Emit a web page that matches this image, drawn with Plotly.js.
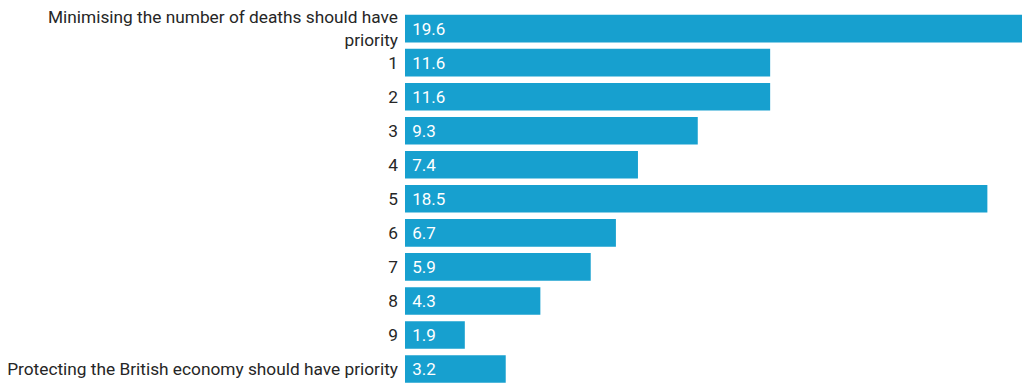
<!DOCTYPE html>
<html>
<head>
<meta charset="utf-8">
<script src="https://cdn.plot.ly/plotly-3.0.1.min.js"></script>
<style>html,body{margin:0;padding:0;background:#fff;}#chart{width:1024px;height:383px;}</style>
</head>
<body>
<div id="chart"></div>
<script>
const categories = [
  "Minimising the number of deaths should have<br>priority",
  "1", "2", "3", "4", "5", "6", "7", "8", "9",
  "Protecting the British economy should have priority"
];
const values = [19.6, 11.6, 11.6, 9.3, 7.4, 18.5, 6.7, 5.9, 4.3, 1.9, 3.2];

const trace = {
  type: 'bar',
  orientation: 'h',
  x: values,
  y: categories,
  marker: {color: '#17a0cf'},
  text: values.map(v => v.toFixed(1)),
  texttemplate: '\u00a0%{text}',
  textposition: 'inside',
  insidetextanchor: 'start',
  constraintext: 'none',
  textfont: {family: 'Roboto, sans-serif', size: 17, color: '#ffffff'},
  hoverinfo: 'none',
  cliponaxis: false
};

const layout = {
  width: 1024, height: 383,
  margin: {l: 405, r: 2, t: 0, b: 0, pad: 0},
  paper_bgcolor: '#ffffff', plot_bgcolor: '#ffffff',
  bargap: 0.19,
  showlegend: false,
  font: {family: 'Roboto, sans-serif', size: 17.3, color: '#262626'},
  xaxis: {range: [0, 19.6], visible: false, fixedrange: true},
  yaxis: {
    type: 'category',
    range: [10.41, -0.84],
    showgrid: false, zeroline: false, showline: false,
    ticks: '', ticklabelstandoff: 6,
    tickfont: {family: 'Roboto, sans-serif', size: 17.3, color: '#262626'},
    fixedrange: true
  }
};

Plotly.newPlot('chart', [trace], layout, {displayModeBar: false, staticPlot: true});
</script>
</body>
</html>
